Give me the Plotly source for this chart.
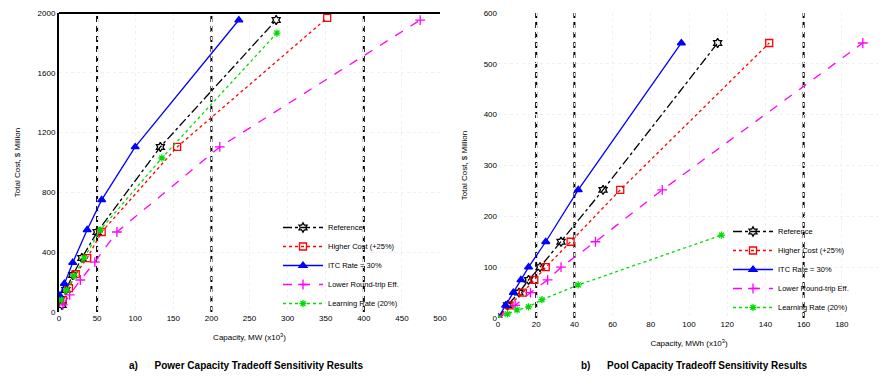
import plotly.graph_objects as go

# ---------------- data ----------------
series_names = ["Reference", "Higher Cost (+25%)", "ITC Rate = 30%",
                "Lower Round-trip Eff.", "Learning Rate (20%)"]

# Left panel: power capacity tradeoff
ref_x = [4, 9, 18, 30, 50, 133, 285]
ref_y = [47, 147, 247, 361, 535, 1104, 1953]
red_x = [5, 13, 22, 37, 56, 155, 352]
red_y = [80, 160, 254, 361, 535, 1104, 1967]
blue_x = [1, 7, 18, 37, 56, 100, 236]
blue_y = [110, 190, 330, 550, 750, 1104, 1953]
mag_x = [5, 14, 28, 47, 76, 211, 474]
mag_y = [47, 114, 214, 334, 535, 1104, 1953]
grn_x = [3, 10, 20, 33, 54, 135, 286]
grn_y = [80, 147, 241, 361, 548, 1030, 1866]
left_vlines = [50, 200, 400]
left_xticks = [0, 50, 100, 150, 200, 250, 300, 350, 400, 450, 500]
left_yticks = [0, 400, 800, 1200, 1600, 2000]

# Right panel: pool capacity tradeoff
r_y = [0, 25, 50, 75, 100, 150, 252, 541]
ref2_x = [0, 5, 11, 16, 22, 33, 55, 115]
red2_x = [0, 6, 13, 19, 25, 38, 64, 142]
blue2_x = [0, 4, 8, 12, 16, 25, 42, 96]
mag2_x = [0, 9, 17, 26, 33, 51, 86, 191]
grn2_x = [0, 5, 10, 16, 23, 42, 117]
grn2_y = [0, 8, 16, 22, 36, 65, 163]
right_vlines = [20, 40, 160]
right_xticks = [0, 20, 40, 60, 80, 100, 120, 140, 160, 180, 200]
right_yticks = [0, 100, 200, 300, 400, 500, 600]

FONT = "Liberation Sans, Arial, sans-serif"

styles = [
    dict(color="black", dash="dashdot", symbol="hexagram-open", size=7),
    dict(color="red", dash="dot", symbol="square-open", size=7),
    dict(color="blue", dash="solid", symbol="triangle-up", size=7),
    dict(color="magenta", dash="dash", symbol="cross-thin-open", size=7),
    dict(color="#00dd00", dash="dot", symbol="asterisk-open", size=6),
]

fig = go.Figure()

left_data = [(ref_x, ref_y), (red_x, red_y), (blue_x, blue_y), (mag_x, mag_y), (grn_x, grn_y)]
right_data = [(ref2_x, r_y), (red2_x, r_y), (blue2_x, r_y), (mag2_x, r_y), (grn2_x, grn2_y)]

for name, (xs, ys), st in zip(series_names, left_data, styles):
    fig.add_trace(go.Scatter(
        x=xs, y=ys, name=name, mode="lines+markers", xaxis="x", yaxis="y",
        legend="legend",
        line=dict(color=st["color"], dash=st["dash"], width=1.3),
        marker=dict(symbol=st["symbol"], size=st["size"], color=st["color"],
                    line=dict(color=st["color"], width=1.3))))

for name, (xs, ys), st in zip(series_names, right_data, styles):
    fig.add_trace(go.Scatter(
        x=xs, y=ys, name=name, mode="lines+markers", xaxis="x2", yaxis="y2",
        legend="legend2",
        line=dict(color=st["color"], dash=st["dash"], width=1.3),
        marker=dict(symbol=st["symbol"], size=st["size"], color=st["color"],
                    line=dict(color=st["color"], width=1.3))))

shapes = []
for v in left_vlines:
    shapes.append(dict(type="line", xref="x", yref="y domain", x0=v, x1=v, y0=0, y1=1,
                       line=dict(color="black", width=2, dash="6px,4px"), layer="below"))
for v in right_vlines:
    shapes.append(dict(type="line", xref="x2", yref="y2 domain", x0=v, x1=v, y0=0, y1=1,
                       line=dict(color="black", width=2, dash="6px,4px"), layer="below"))
# top border of left panel
shapes.append(dict(type="line", xref="x domain", yref="y domain", x0=0, x1=1, y0=1, y1=1,
                   line=dict(color="black", width=2)))

# page body has an 8px margin, so the figure is 16px smaller than the window
OFF = 8
W, H = 888 - 2 * OFF, 380 - 2 * OFF
def px(v):
    return (v - OFF) / W
def py(v):
    return 1 - (v - OFF) / H

axis_common = dict(showgrid=True, gridcolor="#f0f0f0", griddash="dot", zeroline=False,
                   ticks="", tickfont=dict(size=8, family=FONT, color="black"),
                   automargin=False)

fig.update_layout(
    width=W, height=H,
    margin=dict(l=0, r=0, t=0, b=0),
    paper_bgcolor="white", plot_bgcolor="white",
    font=dict(family=FONT, color="black"),
    showlegend=True,
    xaxis=dict(domain=[px(59), px(440)], range=[0, 500], tickvals=left_xticks,
               title=dict(text="Capacity, MW (x10<sup>3</sup>)", font=dict(size=8), standoff=12),
               anchor="y", **axis_common),
    yaxis=dict(domain=[py(312), py(13)], range=[0, 2000], tickvals=left_yticks,
               title=dict(text="Total Cost, $ Million", font=dict(size=8), standoff=16),
               showline=True, linecolor="black", linewidth=2, anchor="x", **axis_common),
    xaxis2=dict(domain=[px(498), px(880)], range=[0, 200], tickvals=right_xticks,
                title=dict(text="Capacity, MWh (x10<sup>3</sup>)", font=dict(size=8), standoff=12),
                anchor="y2", **axis_common),
    yaxis2=dict(domain=[py(318), py(13)], range=[0, 600], tickvals=right_yticks,
                title=dict(text="Total Cost, $ Million", font=dict(size=8), standoff=14),
                anchor="x2", **axis_common),
    legend=dict(x=px(278), y=py(213), xanchor="left", yanchor="top",
                bgcolor="rgba(255,255,255,0)", font=dict(size=7.5, family=FONT),
                itemwidth=40, tracegroupgap=0),
    legend2=dict(x=px(728), y=py(217), xanchor="left", yanchor="top",
                 bgcolor="rgba(255,255,255,0)", font=dict(size=7.5, family=FONT),
                 itemwidth=40, tracegroupgap=0),
    shapes=shapes,
    annotations=[
        dict(text="<b>a)      Power Capacity Tradeoff Sensitivity Results</b>",
             xref="paper", yref="paper", x=px(246), y=py(365), showarrow=False,
             font=dict(size=10, family=FONT), xanchor="center", yanchor="middle"),
        dict(text="<b>b)      Pool Capacity Tradeoff Sensitivity Results</b>",
             xref="paper", yref="paper", x=px(694), y=py(365), showarrow=False,
             font=dict(size=10, family=FONT), xanchor="center", yanchor="middle"),
    ],
)

fig.write_html("out.html")
